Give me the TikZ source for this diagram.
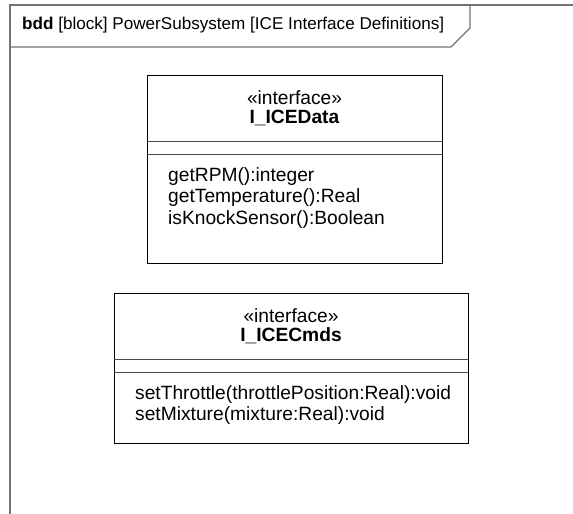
\documentclass[tikz,border=0pt]{standalone}
\usepackage{fontspec}
\setmainfont{Liberation Sans}
\begin{document}
\begin{tikzpicture}[x=1pt,y=-1pt,
  frameline/.style={draw=black!55, line width=1.4pt},
  blockbox/.style={draw=black, line width=0.9pt, rectangle, inner sep=0pt},
  divider/.style={draw=black!70, line width=0.9pt},
  txt/.style={font=\fontsize{19.2}{21}\selectfont, inner sep=0pt},
  op/.style={txt, anchor=west}]
\useasboundingbox (0,0) rectangle (573,514);
\fill[white] (0,0) rectangle (573,514);
% frame
\draw[frameline] (573,5) -- (10,5) -- (10,514);
\draw[frameline] (10,47) -- (451,47) -- (470,28) -- (470,5);
\node[font=\fontsize{17.1}{20}\selectfont, inner sep=0pt, anchor=west] (title) at (22,25) {\textbf{bdd} [block] PowerSubsystem [ICE Interface Definitions]};
% block 1
\node[blockbox, minimum width=295pt, minimum height=188pt, anchor=north west] (b1) at (147,75) {};
\draw[divider] (147,141) -- (442,141);
\draw[divider] (147,154) -- (442,154);
\node[txt] (s1) at (294.5,98) {«interface»};
\node[txt] (n1) at (294.5,118) {\textbf{I\_ICEData}};
\node[op] (o11) at (168,177) {getRPM():integer};
\node[op] (o12) at (168,198) {getTemperature():Real};
\node[op] (o13) at (168,220) {isKnockSensor():Boolean};
% block 2
\node[blockbox, minimum width=354pt, minimum height=150pt, anchor=north west] (b2) at (114,293) {};
\draw[divider] (114,359) -- (468,359);
\draw[divider] (114,372) -- (468,372);
\node[txt] (s2) at (291,316) {«interface»};
\node[txt] (n2) at (291,336) {\textbf{I\_ICECmds}};
\node[op] (o21) at (135,395) {setThrottle(throttlePosition:Real):void};
\node[op] (o22) at (135,416) {setMixture(mixture:Real):void};
\end{tikzpicture}
\end{document}
